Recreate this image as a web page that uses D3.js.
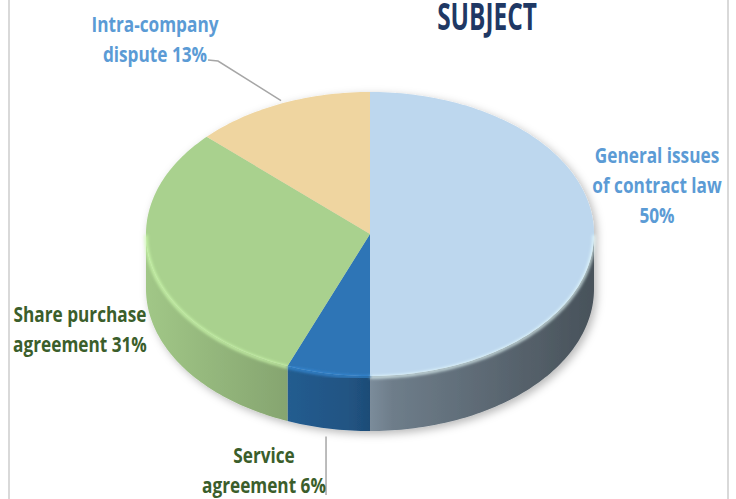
<!DOCTYPE html>
<html>
<head>
<meta charset="utf-8">
<script src="https://cdn.jsdelivr.net/npm/d3@7"></script>
<style>
  body { margin: 0; background: #fff; }
  text { font-family: "Open Sans", "Noto Sans", sans-serif; font-weight: bold; }
</style>
</head>
<body>
<div id="chart"></div>
<script>
// slices, clockwise from 12 o'clock
const categories = ["General issues of contract law", "Service agreement", "Share purchase agreement", "Intra-company dispute"];
const values = [50, 6, 31, 13];
const colors = ["#bdd7ee", "#2e75b6", "#a9d18e", "#efd5a0"];
const labelLines = [["General issues", "of contract law", "{p}%"], ["Service", "agreement {p}%"], ["Share purchase", "agreement {p}%"], ["Intra-company", "dispute {p}%"]];
const labelColors = ["#5b9bd5", "#3b5e2b", "#3b5e2b", "#5b9bd5"];
const title = "SUBJECT";

const width = 736;
const height = 499;

// projected pie
const cx = 370, cy = 234, rx = 224, ry = 142, depth = 55;

// label anchor spots (centre x, first baseline y)
const labelPos = [[657, 163], [264, 463], [80, 322], [155, 32]];

const svg = d3.select("#chart").append("svg")
    .attr("width", width)
    .attr("height", height);

const defs = svg.append("defs");

const shadow = defs.append("filter").attr("id", "shadow")
    .attr("x", "-10%").attr("y", "-10%").attr("width", "120%").attr("height", "130%");
shadow.append("feDropShadow")
    .attr("dx", 3).attr("dy", 3).attr("stdDeviation", 4)
    .attr("flood-color", "#000").attr("flood-opacity", 0.28);

defs.append("filter").attr("id", "soft")
    .append("feGaussianBlur").attr("stdDeviation", 1.4);

// border lines of the chart area
svg.selectAll("line.border")
    .data([9, 728])
    .enter().append("line")
    .attr("class", "border")
    .attr("x1", d => d).attr("x2", d => d)
    .attr("y1", 0).attr("y2", height)
    .attr("stroke", "#d9d9d9")
    .attr("stroke-width", 2);

const pie = d3.pie().sort(null).value(d => d);
const arcs = pie(values);

const px = a => cx + rx * Math.sin(a);
const py = a => cy - ry * Math.cos(a);

function arcPoints(a0, a1, dy) {
    const n = Math.max(2, Math.ceil((a1 - a0) / 0.02));
    return d3.range(n + 1).map(i => {
        const a = a0 + (a1 - a0) * i / n;
        return [px(a), py(a) + dy];
    });
}

const line = d3.line();

// wall gradients: lit from the left
const shade = (c, f) => {
    const r = d3.rgb(c);
    return d3.rgb(r.r * f, r.g * f, r.b * f).formatHex();
};
colors.forEach((c, i) => {
    const g = defs.append("linearGradient").attr("id", "wall" + i)
        .attr("gradientUnits", "userSpaceOnUse")
        .attr("x1", cx - rx).attr("x2", cx + rx).attr("y1", 0).attr("y2", 0);
    g.append("stop").attr("offset", "0%").attr("stop-color", shade(c, 0.95));
    g.append("stop").attr("offset", "45%").attr("stop-color", shade(c, 0.72));
    g.append("stop").attr("offset", "55%").attr("stop-color", shade(c, 0.58));
    g.append("stop").attr("offset", "100%").attr("stop-color", shade(c, 0.38));
});

const pieG = svg.append("g").attr("filter", "url(#shadow)");

// front walls
const front = arcs.map((d, i) => {
    const a0 = Math.max(d.startAngle, Math.PI / 2);
    const a1 = Math.min(d.endAngle, Math.PI * 1.5);
    return {i: i, a0: a0, a1: a1};
}).filter(d => d.a1 > d.a0);

pieG.selectAll("path.wall")
    .data(front)
    .enter().append("path")
    .attr("class", "wall")
    .attr("d", d => {
        const top = arcPoints(d.a0, d.a1, 0);
        const bottom = arcPoints(d.a0, d.a1, depth).reverse();
        return line(top.concat(bottom)) + "Z";
    })
    .attr("fill", d => "url(#wall" + d.i + ")");

// top faces
pieG.selectAll("path.top")
    .data(arcs)
    .enter().append("path")
    .attr("class", "top")
    .attr("d", d => line([[cx, cy]].concat(arcPoints(d.startAngle, d.endAngle, 0))) + "Z")
    .attr("fill", (d, i) => colors[i]);

// bevel highlight on the front rim
svg.append("g").selectAll("path.rim")
    .data(front)
    .enter().append("path")
    .attr("class", "rim")
    .attr("d", d => line(arcPoints(d.a0, d.a1, 1)))
    .attr("fill", "none")
    .attr("stroke", d => d3.rgb(colors[d.i]).brighter(0.6))
    .attr("stroke-opacity", 0.8)
    .attr("stroke-width", 3)
    .attr("filter", "url(#soft)");

// leader lines
const mid = d => (d.startAngle + d.endAngle) / 2;
const intra = arcs[3], service = arcs[1];
svg.append("polyline")
    .attr("points", [[208, 60], [218, 61], [px(mid(intra)), py(mid(intra)) - 3]].join(" "))
    .attr("fill", "none")
    .attr("stroke", "#a6a6a6")
    .attr("stroke-width", 1.5);
svg.append("line")
    .attr("x1", px(mid(service)) - 2).attr("x2", px(mid(service)) - 2)
    .attr("y1", py(mid(service)) + depth + 8).attr("y2", 495)
    .attr("stroke", "#a6a6a6")
    .attr("stroke-width", 1.5);

// labels
const labels = svg.selectAll("g.label")
    .data(arcs)
    .enter().append("g")
    .attr("class", "label")
    .attr("transform", (d, i) => `translate(${labelPos[i][0]},${labelPos[i][1]})`);

labels.each(function(d, i) {
    d3.select(this).selectAll("text")
        .data(labelLines[i].map(s => s.replace("{p}", values[i])))
        .enter().append("text")
        .attr("transform", (s, k) => `translate(0,${k * 30}) scale(0.82,1)`)
        .attr("text-anchor", "middle")
        .attr("font-size", 21)
        .attr("fill", labelColors[i])
        .text(s => s);
});

// title
svg.append("text")
    .attr("transform", "translate(487,30) scale(0.66,1)")
    .attr("text-anchor", "middle")
    .attr("font-size", 37)
    .attr("fill", "#1f3864")
    .text(title);
</script>
</body>
</html>
